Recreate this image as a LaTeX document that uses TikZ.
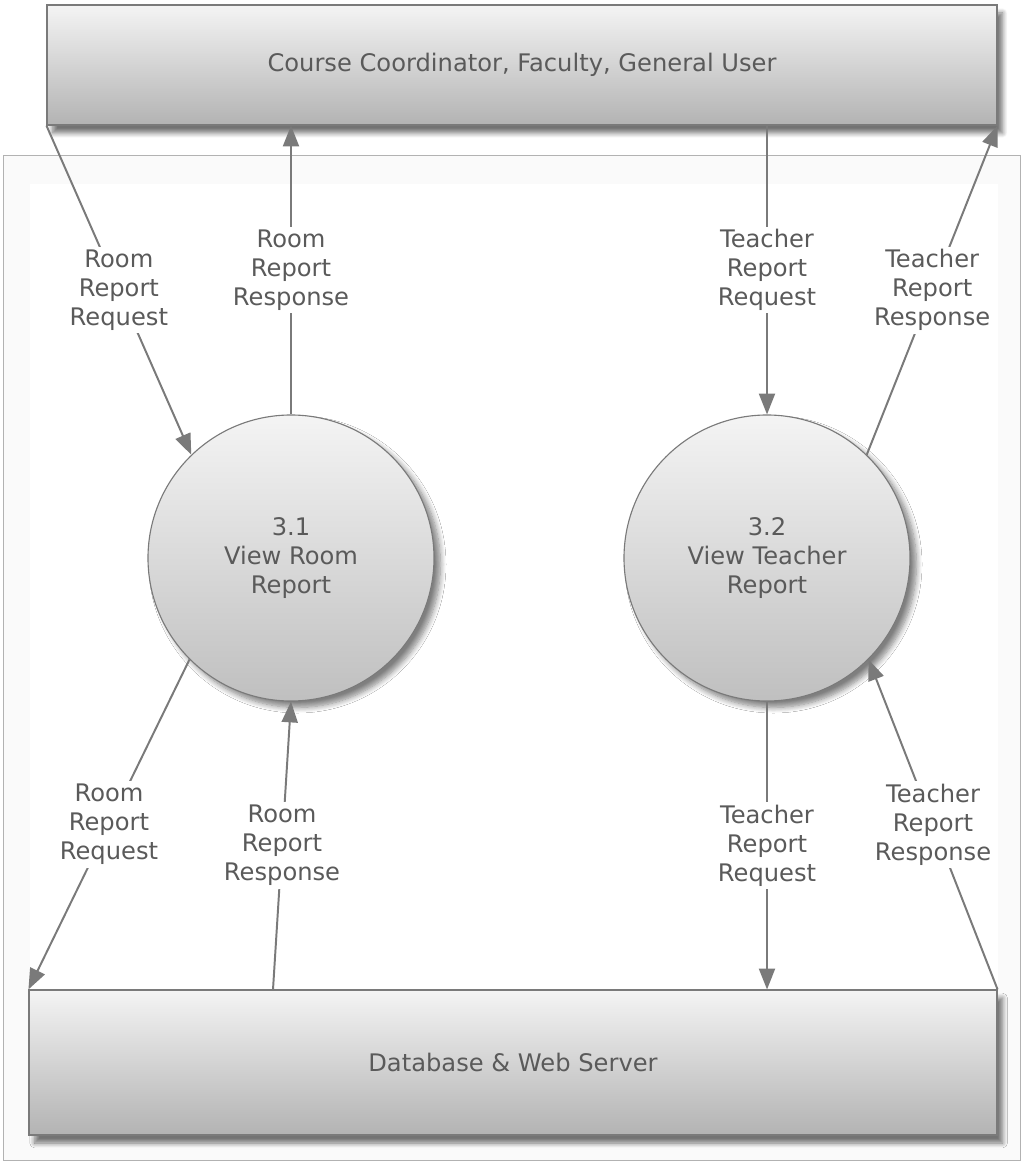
\documentclass[tikz,border=0pt]{standalone}
\usepackage{fontspec}
\setmainfont{DejaVu Sans}
\usetikzlibrary{arrows.meta}
\usetikzlibrary{shadows.blur}
\usetikzlibrary{positioning}

\definecolor{linegray}{HTML}{7A7A7A}
\definecolor{textgray}{HTML}{5A5A5A}
\definecolor{boxtop}{HTML}{F4F4F4}
\definecolor{boxbot}{HTML}{B3B3B3}

\tikzset{
	entity/.style={rectangle, draw=linegray, line width=0.8pt, top color=boxtop, bottom color=boxbot,
		text=textgray, font=\fontsize{17.2}{20.6}\selectfont,
		blur shadow={shadow xshift=0.14cm, shadow yshift=-0.2cm, shadow blur radius=0.12cm,
			shadow blur steps=8, shadow opacity=55}},
	process/.style={circle, draw=linegray, line width=0.8pt, top color=boxtop, bottom color=gray!50,
		minimum size=7.15cm, align=center, text=textgray, font=\fontsize{17.2}{20.6}\selectfont,
		blur shadow={shadow xshift=0.16cm, shadow yshift=-0.16cm, shadow blur radius=0.14cm,
			shadow blur steps=8, shadow opacity=50}},
	flow/.style={draw=linegray, line width=1.4pt, -{Triangle[length=0.52cm, width=0.4cm]}},
	flowlabel/.style={fill=white, text=textgray, align=center, inner sep=2pt,
		font=\fontsize{17.2}{20.6}\selectfont}
}

\begin{document}
\begin{tikzpicture}
		\useasboundingbox (0,0) rectangle (25.65,-29.05);
		\draw[draw=gray!60, fill=gray!4] (0.075,-3.875) rectangle (25.5,-29.0);
		\fill[white] (0.75,-4.6) rectangle (24.95,-28.45);
		
		\node[entity, minimum width=23.75cm, minimum height=3cm] (users) at (13.05,-1.625) {Course Coordinator, Faculty, General User};
		\node[entity, minimum width=24.2cm, minimum height=3.625cm] (dbase) at (12.825,-26.5625) {Database \& Web Server};
		\node[process] (p31) at (7.275,-13.95) {3.1\\View Room\\Report};
		\node[process] (p32) at (19.175,-13.95) {3.2\\View Teacher\\Report};
		
		\draw[flow] (users.south west) -- node[flowlabel] {Room\\Report\\Request} (p31.134);
		\draw[flow] (p31.north) -- node[flowlabel] {Room\\Report\\Response} (p31.north |- users.south);
		\draw[flow] (p32.north |- users.south) -- node[flowlabel] {Teacher\\Report\\Request} (p32.north);
		\draw[flow] (p32.46) -- node[flowlabel] {Teacher\\Report\\Response} (users.south east);
		
		\draw[flow] (p31.225) -- node[flowlabel] {Room\\Report\\Request} (dbase.north west);
		\draw[flow] ([xshift=-0.45cm]p31.south |- dbase.north) -- node[flowlabel] {Room\\Report\\Response} (p31.south);
		\draw[flow] (p32.south) -- node[flowlabel] {Teacher\\Report\\Request} (p32.south |- dbase.north);
		\draw[flow] (dbase.north east) -- node[flowlabel] {Teacher\\Report\\Response} (p32.315);
\end{tikzpicture}
\end{document}
